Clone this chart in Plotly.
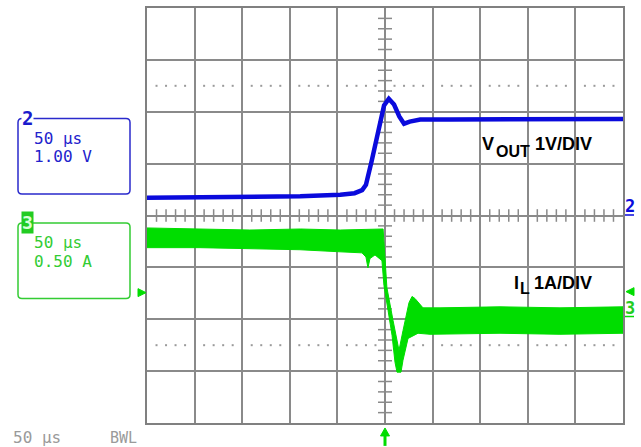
import plotly.graph_objects as go

# ---------------- data ----------------
# time in microseconds (50 us/div), amplitude in screen divisions
vout_t = [-250, -194, -142, -89, -47, -32, -24, -20, -14, -7, -1, 4, 9.5, 15, 20, 26, 37, 68, 121, 173, 250]
vout_div = [0.34, 0.35, 0.36, 0.37, 0.40, 0.43, 0.49, 0.59, 1.05, 1.62, 2.12, 2.25, 2.14, 1.91, 1.77, 1.81, 1.85, 1.85, 1.85, 1.86, 1.86]

# inductor current trace drawn as the outline of its noise band
il_outline_t = [-250, -194, -142, -89, -47, -2, 0, 2, 8.4, 13.7, 14.7, 18.9, 22.1, 25.2, 28.4, 31.5, 39.9, 57.8, 120.8, 183.8, 250,
                250, 183.8, 120.8, 47.3, 34.7, 24.2, 21.0, 18.9, 16.8, 12.6, 10.5, 7.4, 3.2, -1.1, -3.2, -10.5, -15.8, -17.9, -20, -24.2, -47.3, -89.3, -141.8, -194.3, -250]
il_outline_div = [-0.24, -0.26, -0.28, -0.26, -0.28, -0.26, -0.78, -1.39, -2.02, -2.50, -2.60, -2.22, -1.93, -1.68, -1.56, -1.60, -1.78, -1.78, -1.76, -1.78, -1.76,
                  -2.27, -2.29, -2.27, -2.29, -2.27, -2.37, -2.60, -2.79, -3.02, -3.02, -2.83, -2.31, -1.83, -1.35, -0.87, -0.76, -0.83, -1.01, -0.80, -0.72, -0.70, -0.66, -0.64, -0.62, -0.62]

ch2_lines = ["50 \u03bcs", "1.00 V"]
ch3_lines = ["50 \u03bcs", "0.50 A"]
bottom_labels = ["50 \u03bcs", "BWL"]

BLUE = "#0a0adc"
GREEN = "#00dd00"
GRID = "#8a8a8a"

# ---------------- layout geometry helpers ----------------
L, R, T, B = 147, 623, 6, 423
W, H = 641, 447


def px(x):
    return (x - L) / (R - L)


def py(y):
    return (B - y) / (B - T)


fig = go.Figure()

# minor ticks on centre axes
tick_t = [t for t in range(-250, 251, 10) if t % 50 != 0]
tick_v = [v / 10 for v in range(-40, 41, 2) if v % 10 != 0]
fig.add_trace(go.Scatter(x=tick_t, y=[0] * len(tick_t), mode="markers",
                         marker=dict(symbol="line-ns", size=9, line=dict(color=GRID, width=1.5)),
                         hoverinfo="skip", showlegend=False))
fig.add_trace(go.Scatter(x=[0] * len(tick_v), y=tick_v, mode="markers",
                         marker=dict(symbol="line-ew", size=10, line=dict(color=GRID, width=1.5)),
                         hoverinfo="skip", showlegend=False))
# dotted reference lines
for lvl in (2.5, -2.5):
    fig.add_trace(go.Scatter(x=tick_t, y=[lvl] * len(tick_t), mode="markers",
                             marker=dict(symbol="square", size=2, color="#9a9a9a"),
                             hoverinfo="skip", showlegend=False))

# traces
fig.add_trace(go.Scatter(x=il_outline_t, y=il_outline_div, mode="lines", fill="toself",
                         fillcolor=GREEN, line=dict(color=GREEN, width=1),
                         hoverinfo="skip", showlegend=False))
fig.add_trace(go.Scatter(x=vout_t, y=vout_div, mode="lines",
                         line=dict(color=BLUE, width=4.5),
                         hoverinfo="skip", showlegend=False))

shapes = []


def rrect(x0, y0, x1, y1, r, color):
    p = (f"M {px(x0 + r)} {py(y0)} L {px(x1 - r)} {py(y0)} Q {px(x1)} {py(y0)} {px(x1)} {py(y0 + r)} "
         f"L {px(x1)} {py(y1 - r)} Q {px(x1)} {py(y1)} {px(x1 - r)} {py(y1)} "
         f"L {px(x0 + r)} {py(y1)} Q {px(x0)} {py(y1)} {px(x0)} {py(y1 - r)} "
         f"L {px(x0)} {py(y0 + r)} Q {px(x0)} {py(y0)} {px(x0 + r)} {py(y0)} Z")
    return dict(type="path", xref="paper", yref="paper", path=p,
                line=dict(color=color, width=1.5), layer="above")


def tri(points, color):
    p = "M " + " L ".join(f"{px(a)} {py(b)}" for a, b in points) + " Z"
    return dict(type="path", xref="paper", yref="paper", path=p,
                fillcolor=color, line=dict(color=color, width=1), layer="above")


# channel boxes
shapes.append(rrect(18, 117, 130, 193, 4, "#2a2acc"))
shapes.append(rrect(18, 222, 130, 298, 4, "#33cc33"))
# white label backgrounds
shapes.append(dict(type="rect", xref="paper", yref="paper", x0=px(475), x1=px(621.5), y0=py(161), y1=py(129),
                   fillcolor="white", line=dict(width=0), layer="below"))
shapes.append(dict(type="rect", xref="paper", yref="paper", x0=px(475), x1=px(621.5), y0=py(296), y1=py(268),
                   fillcolor="white", line=dict(width=0), layer="below"))
# level markers
shapes.append(tri([(138, 288), (146, 292), (138, 296)], GREEN))
shapes.append(tri([(634, 287), (626, 291), (634, 295)], GREEN))
shapes.append(dict(type="line", xref="paper", yref="paper", x0=px(625), x1=px(634), y0=py(214), y1=py(214),
                   line=dict(color=BLUE, width=1.5)))
shapes.append(dict(type="line", xref="paper", yref="paper", x0=px(625), x1=px(634), y0=py(316), y1=py(316),
                   line=dict(color=GREEN, width=1.5)))
# trigger arrow
shapes.append(dict(type="line", xref="paper", yref="paper", x0=px(385), x1=px(385), y0=py(435), y1=py(446),
                   line=dict(color=GREEN, width=3)))
shapes.append(tri([(385, 428), (380.5, 436), (389.5, 436)], GREEN))

MONO = "DejaVu Sans Mono"
ann = []


def txt(text, x, y, color, size=16, family=MONO, xanchor="left", **kw):
    ann.append(dict(text=text, x=px(x), y=py(y), xref="paper", yref="paper", showarrow=False,
                    xanchor=xanchor, yanchor="middle", font=dict(family=family, size=size, color=color), **kw))


txt(ch2_lines[0], 32, 137, "#2222cc")
txt(ch2_lines[1], 32, 155, "#2222cc")
txt("<b>2</b>", 27, 117, "#1a1acc", size=19, xanchor="center", bgcolor="white", borderpad=0)
txt(ch3_lines[0], 32, 242, "#33cc33")
txt(ch3_lines[1], 32, 260.5, "#33cc33")
txt("<b>3</b>", 27.5, 222, "#d8ffd8", size=18, xanchor="center", bgcolor="#22cc22", borderpad=0)

txt(bottom_labels[0], 11, 438, "#9a9a9a")
txt(bottom_labels[1], 108, 438, "#9a9a9a", size=15)

txt("<b>2</b>", 629.5, 205, BLUE, size=17, xanchor="center")
txt("<b>3</b>", 629.5, 307, "#22cc22", size=17, xanchor="center")

ARIAL = "Liberation Sans"
txt("<b>V</b>", 480, 143, "black", size=18, family=ARIAL)
txt("<b>OUT</b>", 494, 150, "black", size=16, family=ARIAL)
txt("<b>1V/DIV</b>", 533, 143, "black", size=18, family=ARIAL)
txt("<b>I</b>", 512, 282, "black", size=18, family=ARIAL)
txt("<b>L</b>", 518, 288, "black", size=16, family=ARIAL)
txt("<b>1A/DIV</b>", 532, 282, "black", size=18, family=ARIAL)

axis_common = dict(showgrid=True, gridcolor=GRID, gridwidth=1.5, zeroline=True, zerolinecolor=GRID,
                   zerolinewidth=1.5, showticklabels=False, ticks="", showline=True, mirror=True,
                   linecolor="#808080", linewidth=2, fixedrange=True)

fig.update_layout(
    width=W, height=H,
    margin=dict(l=L, r=W - R, t=T, b=H - B),
    paper_bgcolor="white", plot_bgcolor="white",
    xaxis=dict(range=[-250, 250], dtick=50, tick0=0, **axis_common),
    yaxis=dict(range=[-4, 4], dtick=1, tick0=0, **axis_common),
    shapes=shapes, annotations=ann, showlegend=False,
)

fig.write_html("out.html", config={"displayModeBar": False},
               post_script="document.body.style.margin='0';document.body.style.overflow='hidden';")
